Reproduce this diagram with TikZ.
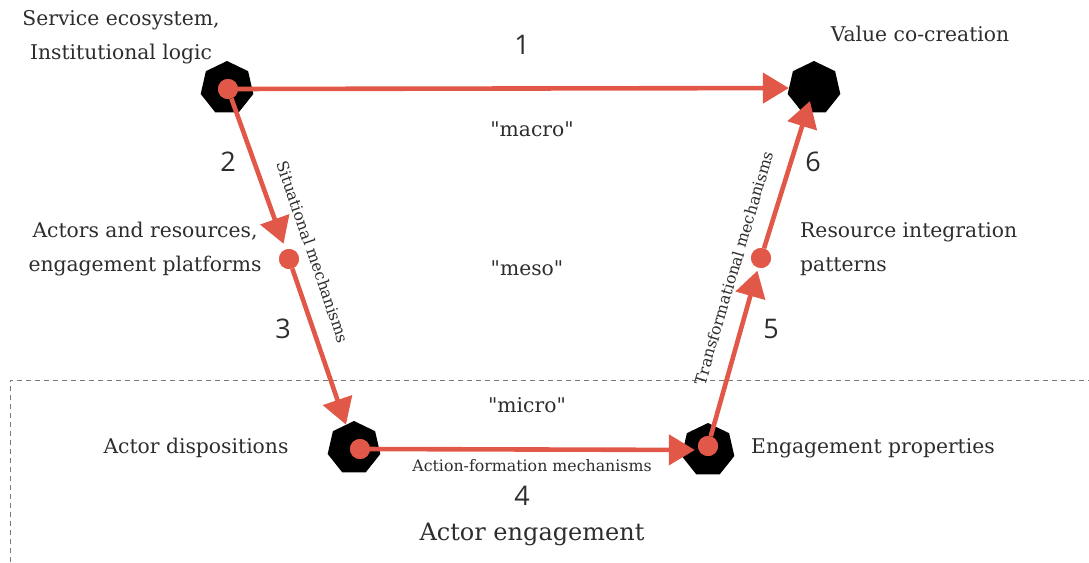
\documentclass[tikz,border=0pt]{standalone}
\usepackage{fontspec}
\setmainfont{DejaVu Serif}
\newfontfamily\numfont{Open Sans}
\usetikzlibrary{arrows.meta,shapes.geometric}
\definecolor{flowred}{RGB}{226,88,72}
\definecolor{inktext}{RGB}{45,45,45}
\definecolor{zonegray}{RGB}{120,120,120}
\begin{document}
\begin{tikzpicture}[x=1pt,y=-1pt,
  hept/.style={regular polygon,regular polygon sides=7,minimum size=54pt,inner sep=0pt,fill=black},
  dot/.style={circle,fill=flowred,minimum size=20pt,inner sep=0pt},
  flow/.style={draw=flowred,line width=4.6pt,-{Triangle[length=26pt,width=30pt]}},
  lbl/.style={text=inktext,font=\fontsize{20.3}{33.5}\selectfont,inner sep=0pt},
  mech/.style={text=inktext,font=\fontsize{15.8}{18}\selectfont,inner sep=0pt},
  num/.style={text=inktext,font=\numfont\fontsize{27}{30}\selectfont,inner sep=0pt},
  zone/.style={draw=zonegray,line width=0.9pt,dash pattern=on 5pt off 4pt}
]
\useasboundingbox (0,0) rectangle (1089,562);

% micro-level zone
\coordinate (zl) at (10,562);
\coordinate (zc) at (10,380);
\coordinate (zr) at (1089,380);
\draw[zone] (zl) -- (zc) -- (zr);

% level nodes
\node[hept] (tl) at (227,88) {};
\node[hept] (tr) at (814,88) {};
\node[hept] (bl) at (354,448) {};
\node[hept] (br) at (708,450) {};

\node[dot] (tld) at (228,89) {};
\node[dot] (mld) at (289,259) {};
\node[dot] (mrd) at (761,258) {};
\node[dot] (bld) at (360,449) {};
\node[dot] (brd) at (708,446) {};

% connectors
\draw[flow] (tld) -- (tr);
\draw[flow,shorten >=6pt] (tld) -- (mld);
\draw[flow] (mld) -- (bl);
\draw[flow,shorten >=-12pt] (bld) -- (br);
\draw[flow,shorten >=3pt] (brd) -- (mrd);
\draw[flow,shorten >=-12pt] (mrd) -- (tr);

% redraw dots over line ends
\node[dot] at (tld) {};
\node[dot] at (mld) {};
\node[dot] at (mrd) {};
\node[dot] at (bld) {};
\node[dot] at (brd) {};

% numbers
\node[num] (n1) at (522,45) {1};
\node[num] (n2) at (228,162) {2};
\node[num] (n3) at (283,329) {3};
\node[num] (n4) at (522,496) {4};
\node[num] (n5) at (771,329) {5};
\node[num] (n6) at (813,162) {6};

% level names
\node[lbl] (qmacro) at (532,129) {\textquotedbl macro\textquotedbl};
\node[lbl] (qmeso) at (527,268) {\textquotedbl meso\textquotedbl};
\node[lbl] (qmicro) at (527,405) {\textquotedbl micro\textquotedbl};

% labels
\node[lbl,align=center] (t1) at (121,37) {Service ecosystem,\\Institutional logic};
\node[lbl] (t2) at (920,34) {Value co-creation};
\node[lbl,align=center] (t3) at (145,249) {Actors and resources,\\engagement platforms};
\node[lbl,align=left,anchor=west] (t4) at (800,249) {Resource integration\\patterns};
\node[lbl] (t5) at (196,448) {Actor dispositions};
\node[lbl] (t6) at (873,448) {Engagement properties};
\node[text=inktext,font=\fontsize{24}{28}\selectfont,inner sep=0pt] (t7) at (532,534) {Actor engagement};

% mechanism labels
\node[mech,rotate=-71] (m1) at (313,252) {Situational mechanisms};
\node[mech] (m2) at (532,466) {Action-formation mechanisms};
\node[mech,rotate=73.5] (m3) at (734,268) {Transformational mechanisms};
\end{tikzpicture}
\end{document}
